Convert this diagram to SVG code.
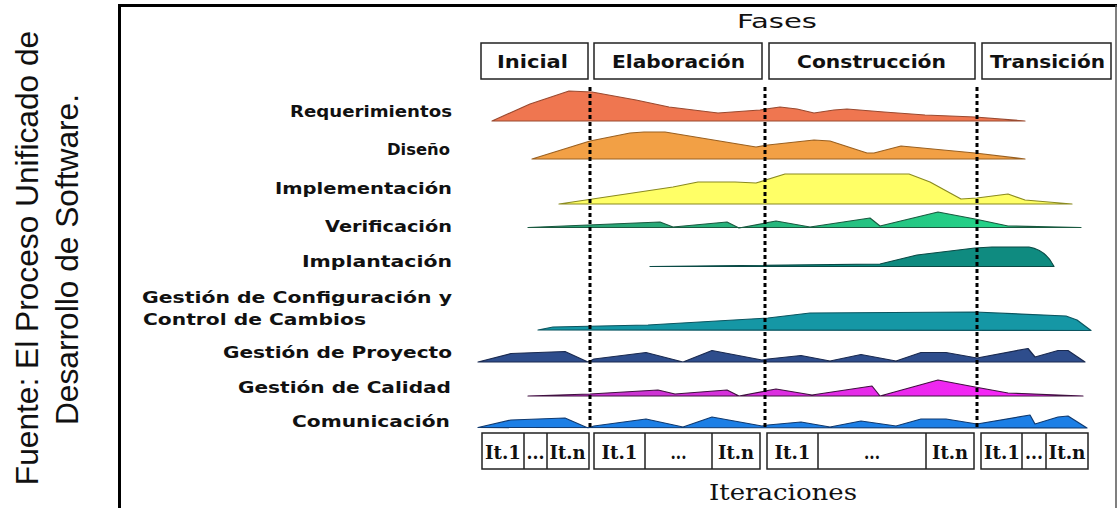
<svg xmlns="http://www.w3.org/2000/svg" width="1119" height="508" viewBox="0 0 1119 508">
<defs>
<style>
.lbl{font-family:"DejaVu Sans",Verdana,sans-serif;font-weight:bold;font-size:15px;fill:#111}
.ph{font-family:"DejaVu Sans",Verdana,sans-serif;font-weight:bold;font-size:18px;fill:#111}
.box{fill:#fff;stroke:#222;stroke-width:1.5}
.cell{fill:none;stroke:#222;stroke-width:1.5}
.it{font-family:"DejaVu Serif",serif;font-weight:bold;font-size:18px;fill:#111;text-anchor:middle}
.dv{stroke:#000;stroke-width:3;stroke-dasharray:4 3;fill:none}
.h{stroke-width:1.2;stroke-linejoin:round}
.src{font-family:"Liberation Sans",Arial,sans-serif;font-size:31.7px;fill:#111;text-anchor:middle}
</style>
<linearGradient id="gVer" x1="0" x2="1" y1="0" y2="0"><stop offset="0" stop-color="#2a9a72"/><stop offset="1" stop-color="#22dd8c"/></linearGradient>
<linearGradient id="gCal" x1="0" x2="1" y1="0" y2="0"><stop offset="0" stop-color="#c038c8"/><stop offset="1" stop-color="#ff22ff"/></linearGradient>
</defs>
<rect width="1119" height="508" fill="#fff"/>

<g id="fuente">
<text class="src" transform="translate(38,258) rotate(-90)">Fuente: El Proceso Unificado de</text>
<text class="src" transform="translate(78,259.5) rotate(-90)">Desarrollo de Software.</text>
</g>

<g id="frame" fill="none">
<line x1="119" y1="5.5" x2="1117" y2="5.5" stroke="#000" stroke-width="3"/>
<line x1="119.5" y1="4" x2="119.5" y2="508" stroke="#000" stroke-width="3"/>
<line x1="1116" y1="5" x2="1116" y2="508" stroke="#555" stroke-width="1.5"/>
</g>

<g id="fases">
<text x="737" y="28" font-family="DejaVu Sans, Verdana, sans-serif" font-size="20" fill="#111" textLength="80" lengthAdjust="spacingAndGlyphs">Fases</text>
</g>

<g id="fase-inicial"><rect class="box" x="481" y="43" width="107" height="36"/><text class="ph" x="497" y="67.5" textLength="71" lengthAdjust="spacingAndGlyphs">Inicial</text></g>
<g id="fase-elaboracion"><rect class="box" x="594" y="43" width="168" height="36"/><text class="ph" x="612" y="67.5" textLength="133" lengthAdjust="spacingAndGlyphs">Elaboración</text></g>
<g id="fase-construccion"><rect class="box" x="769" y="43" width="206" height="36"/><text class="ph" x="797" y="67.5" textLength="149" lengthAdjust="spacingAndGlyphs">Construcción</text></g>
<g id="fase-transicion"><rect class="box" x="982" y="43" width="129" height="36"/><text class="ph" x="990" y="67.5" textLength="115" lengthAdjust="spacingAndGlyphs">Transición</text></g>

<g id="requerimientos">
<text class="lbl" x="290" y="116.5" textLength="162" lengthAdjust="spacingAndGlyphs">Requerimientos</text>
<path class="h" fill="#ef7650" stroke="#9a4a30" d="M492,121 L530,104 L569,91 L592,92 L636,100 L669,107 L718,113 L760,110 L780,107 L797,109 L814,113 L834,110 L847,109 L884,112 L925,115 L975,117 L1025,121 Z"/>
</g>
<g id="diseno">
<text class="lbl" x="387" y="155" textLength="63" lengthAdjust="spacingAndGlyphs">Diseño</text>
<path class="h" fill="#f2a045" stroke="#9a6020" d="M532,159 L590,141 L630,133 L644,132 L665,132 L756,147 L768,145 L814,140 L830,141 L867,153 L874,153 L901,146 L975,153 L1025,159 Z"/>
</g>
<g id="implementacion">
<text class="lbl" x="275" y="194" textLength="177" lengthAdjust="spacingAndGlyphs">Implementación</text>
<path class="h" fill="#ffff66" stroke="#8a8a20" d="M559,204 L673,187 L698,182 L735,182 L756,183 L785,174 L909,174 L930,182 L961,199 L977,198 L1008,194 L1025,200 L1072,204 Z"/>
</g>
<g id="verificacion">
<text class="lbl" x="325" y="231.5" textLength="127" lengthAdjust="spacingAndGlyphs">Verificación</text>
<path class="h" fill="url(#gVer)" stroke="#1a5a40" d="M528,227.5 L660,222 L673,227 L727,222 L739,228 L776,221 L810,227 L870,218 L880,226 L938,212 L975,219 L1008,226 L1081,227.5 Z"/>
</g>
<g id="implantacion">
<text class="lbl" x="302" y="266.5" textLength="150" lengthAdjust="spacingAndGlyphs">Implantación</text>
<path class="h" fill="#0f8b80" stroke="#0a4a45" d="M650,266.5 L880,264 L917,255 L975,248 L992,247 L1029,247 Q1046,250 1054,266.5 Z"/>
</g>
<g id="configuracion">
<text class="lbl" x="142" y="303" textLength="310" lengthAdjust="spacingAndGlyphs">Gestión de Configuración y</text>
<text class="lbl" x="143" y="325" textLength="223" lengthAdjust="spacingAndGlyphs">Control de Cambios</text>
<path class="h" fill="#1597a5" stroke="#0b5560" d="M538,330 L553,327 L648,325 L768,318 L810,313 L975,312 L1066,316 L1077,320 L1091,330.5 Z"/>
</g>
<g id="proyecto">
<text class="lbl" x="223" y="358" textLength="229" lengthAdjust="spacingAndGlyphs">Gestión de Proyecto</text>
<path class="h" fill="#2e4d8c" stroke="#1a2a50" d="M478,362 L511,353.5 L565,351.5 L588,362 L594,359 L646,352.5 L683,362 L712,350.5 L762,360 L768,359 L801,355.5 L830,361 L861,354.5 L896,361 L921,352.5 L946,352.5 L977,358 L1028,348.5 L1035,357 L1058,350.5 L1068,350.5 L1085,362 Z"/>
</g>
<g id="calidad">
<text class="lbl" x="238" y="392.5" textLength="213" lengthAdjust="spacingAndGlyphs">Gestión de Calidad</text>
<path class="h" fill="url(#gCal)" stroke="#401040" d="M528,396 L590,394 L658,390 L675,394 L727,390 L739,396 L776,389 L812,395 L872,386 L880,396 L938,380 L975,387 L1008,393 L1083,396 Z"/>
</g>
<g id="comunicacion">
<text class="lbl" x="292" y="426.5" textLength="158" lengthAdjust="spacingAndGlyphs">Comunicación</text>
<path class="h" fill="#1c7fe6" stroke="#103a70" d="M478,427.5 L511,420 L565,418 L588,428 L594,426 L646,419 L683,427 L712,417 L762,426 L768,425 L801,422 L830,427 L861,421 L896,426 L921,419 L946,419 L977,424 L1030,415 L1035,424 L1058,417 L1068,416 L1087,428 Z"/>
</g>

<g id="connectors">
<line class="dv" x1="590" y1="87" x2="590" y2="430"/>
<line class="dv" x1="765" y1="87" x2="765" y2="430"/>
<line class="dv" x1="977" y1="87" x2="977" y2="430"/>
</g>

<g id="iter-inicial">
<rect class="box" x="482" y="433" width="107" height="36"/>
<path class="cell" d="M524,433 V469 M547,433 V469"/>
<text class="it" x="503" y="459" textLength="36" lengthAdjust="spacingAndGlyphs">It.1</text>
<text class="it" x="535.5" y="459" textLength="18" lengthAdjust="spacingAndGlyphs">...</text>
<text class="it" x="567.5" y="459" textLength="36" lengthAdjust="spacingAndGlyphs">It.n</text>
</g>
<g id="iter-elaboracion">
<rect class="box" x="594" y="433" width="166" height="36"/>
<path class="cell" d="M645,433 V469 M712,433 V469"/>
<text class="it" x="619.5" y="459" textLength="36" lengthAdjust="spacingAndGlyphs">It.1</text>
<text class="it" x="678.5" y="459" textLength="16" lengthAdjust="spacingAndGlyphs">...</text>
<text class="it" x="736" y="459" textLength="36" lengthAdjust="spacingAndGlyphs">It.n</text>
</g>
<g id="iter-construccion">
<rect class="box" x="767" y="433" width="207" height="36"/>
<path class="cell" d="M818,433 V469 M926,433 V469"/>
<text class="it" x="792.5" y="459" textLength="36" lengthAdjust="spacingAndGlyphs">It.1</text>
<text class="it" x="872" y="459" textLength="16" lengthAdjust="spacingAndGlyphs">...</text>
<text class="it" x="950" y="459" textLength="36" lengthAdjust="spacingAndGlyphs">It.n</text>
</g>
<g id="iter-transicion">
<rect class="box" x="981" y="433" width="107" height="36"/>
<path class="cell" d="M1022,433 V469 M1046,433 V469"/>
<text class="it" x="1002" y="459" textLength="36" lengthAdjust="spacingAndGlyphs">It.1</text>
<text class="it" x="1034" y="459" textLength="18" lengthAdjust="spacingAndGlyphs">...</text>
<text class="it" x="1067" y="459" textLength="37" lengthAdjust="spacingAndGlyphs">It.n</text>
</g>

<g id="iteraciones">
<text x="783" y="500" font-family="DejaVu Serif, serif" font-size="22" fill="#111" text-anchor="middle" textLength="148" lengthAdjust="spacingAndGlyphs">Iteraciones</text>
</g>
</svg>
